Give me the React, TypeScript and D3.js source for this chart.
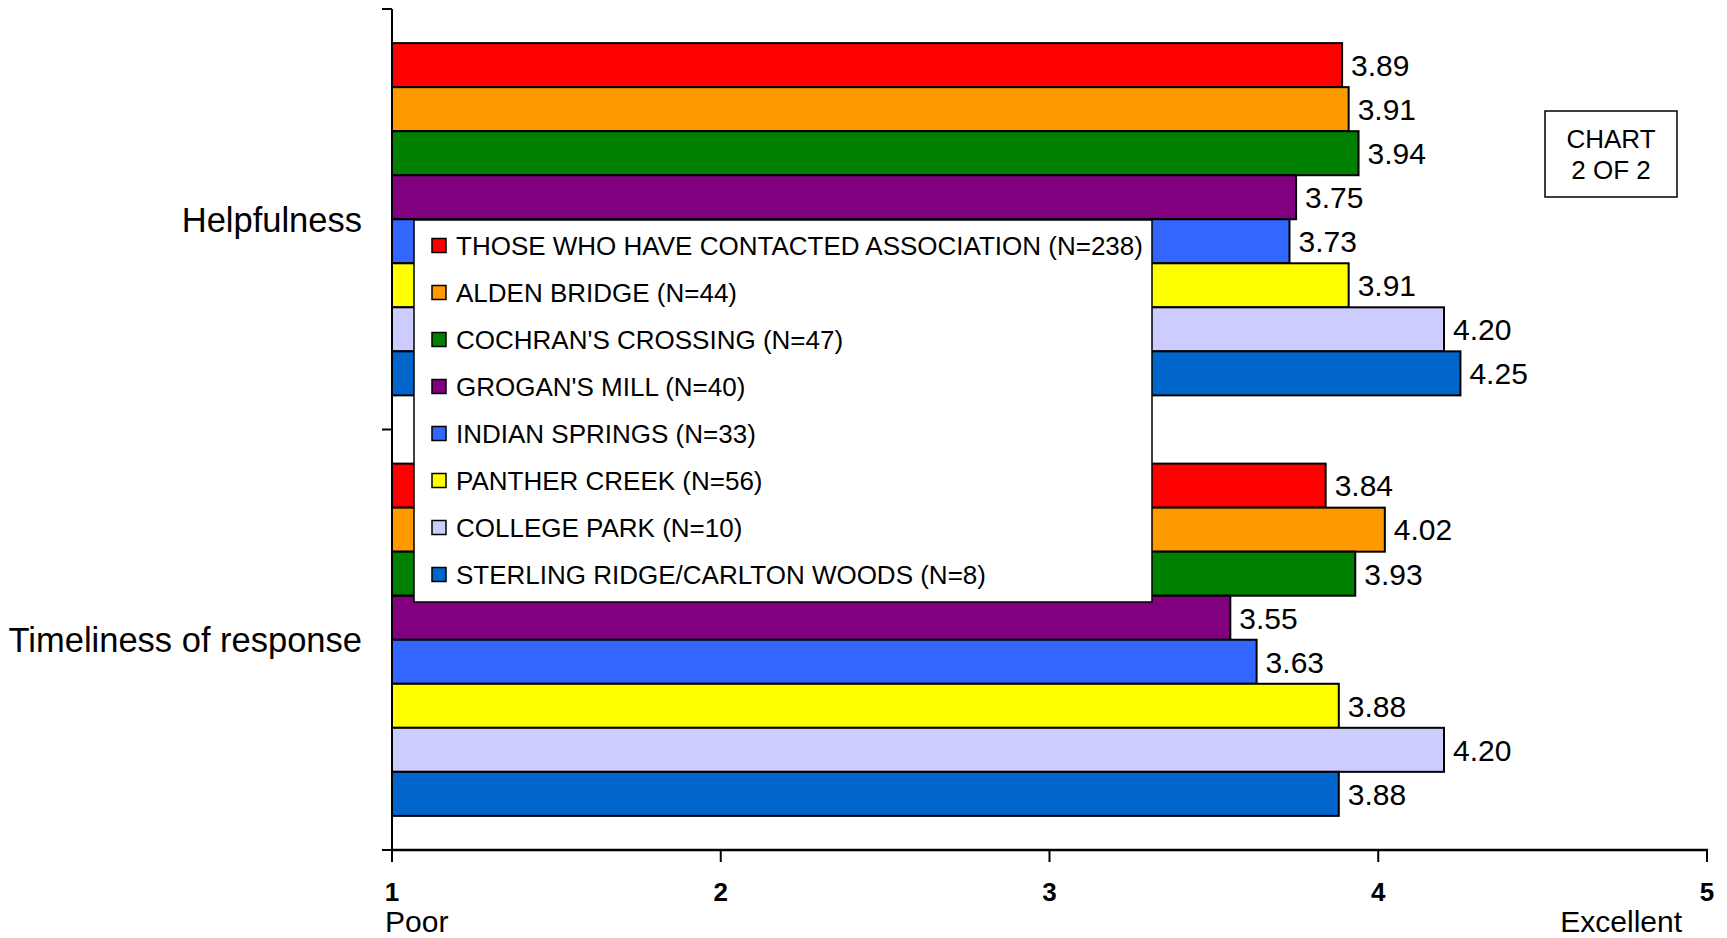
import React from "react";
import * as d3 from "d3";

const categories = ["Helpfulness", "Timeliness of response"];
const seriesNames = [
  "THOSE WHO HAVE CONTACTED ASSOCIATION (N=238)",
  "ALDEN BRIDGE (N=44)",
  "COCHRAN'S CROSSING (N=47)",
  "GROGAN'S MILL (N=40)",
  "INDIAN SPRINGS (N=33)",
  "PANTHER CREEK (N=56)",
  "COLLEGE PARK (N=10)",
  "STERLING RIDGE/CARLTON WOODS (N=8)",
];
const seriesColors = ["#FF0000", "#FF9900", "#008000", "#800080", "#3366FF", "#FFFF00", "#CCCCFF", "#0066CC"];
const helpfulnessValues = [3.89, 3.91, 3.94, 3.75, 3.73, 3.91, 4.2, 4.25];
const timelinessValues = [3.84, 4.02, 3.93, 3.55, 3.63, 3.88, 4.2, 3.88];
const xTicks = [1, 2, 3, 4, 5];
const xEndLabels = ["Poor", "Excellent"];
const badgeLines = ["CHART", "2 OF 2"];

const W = 1727;
const H = 938;
const left = 392;
const right = 1707;
const top = 9;
const bottom = 850;
const FONT = "'Liberation Sans', Arial, sans-serif";

export default function App() {
  const valuesByCategory = [helpfulnessValues, timelinessValues];
  const x = d3.scaleLinear().domain([1, 5]).range([left, right]);
  const yCat = d3.scaleBand<string>().domain(categories).range([top, bottom]).padding(0);
  const band = yCat.bandwidth();
  const barH = band / 9.55;
  const gap = band - barH * 8;
  const ySer = d3
    .scaleBand<string>()
    .domain(seriesNames)
    .range([gap / 2, band - gap / 2])
    .padding(0);

  const legX = 414;
  const legY = 220;
  const legW = 738;
  const legH = 382;
  const legRow = 47;

  return (
    <svg
      width={W}
      height={H}
      style={{ position: "absolute", left: 0, top: 0, background: "#fff" }}
      fontFamily={FONT}
    >
      <rect x={0} y={0} width={W} height={H} fill="#fff" />
      {categories.map((c, ci) => (
        <g key={c}>
          {seriesNames.map((s, si) => {
            const v = valuesByCategory[ci][si];
            const y0 = (yCat(c) as number) + (ySer(s) as number);
            return (
              <g key={s}>
                <rect
                  x={x(1)}
                  y={y0}
                  width={x(v) - x(1)}
                  height={ySer.bandwidth()}
                  fill={seriesColors[si]}
                  stroke="#000"
                  strokeWidth={2}
                />
                <text
                  x={x(v) + 9}
                  y={y0 + ySer.bandwidth() / 2}
                  dy="0.36em"
                  fontSize={30}
                  fill="#000"
                >
                  {v.toFixed(2)}
                </text>
              </g>
            );
          })}
          <text
            x={362}
            y={(yCat(c) as number) + band / 2}
            dy="0.36em"
            textAnchor="end"
            fontSize={34.5}
            fill="#000"
          >
            {c}
          </text>
        </g>
      ))}

      {/* axes */}
      <line x1={left} x2={left} y1={top} y2={bottom + 1} stroke="#000" strokeWidth={2} />
      {[top, top + band, bottom].map((yy, i) => (
        <line key={i} x1={left - 10} x2={left} y1={yy} y2={yy} stroke="#000" strokeWidth={2} />
      ))}
      <line x1={left - 1} x2={right + 1} y1={bottom} y2={bottom} stroke="#000" strokeWidth={2.5} />
      {xTicks.map((t) => (
        <g key={t}>
          <line x1={x(t)} x2={x(t)} y1={bottom} y2={bottom + 12} stroke="#000" strokeWidth={2} />
          <text x={x(t)} y={892} dy="0.36em" textAnchor="middle" fontSize={26} fontWeight="bold" fill="#000">
            {t}
          </text>
        </g>
      ))}
      <text x={385} y={921} dy="0.36em" fontSize={30} fill="#000">
        {xEndLabels[0]}
      </text>
      <text x={1682} y={921} dy="0.36em" textAnchor="end" fontSize={30} fill="#000">
        {xEndLabels[1]}
      </text>

      {/* legend */}
      <rect x={legX} y={legY} width={legW} height={legH} fill="#fff" stroke="#000" strokeWidth={1.5} />
      {seriesNames.map((s, i) => {
        const cy = legY + 25.5 + i * legRow;
        return (
          <g key={s}>
            <rect x={432} y={cy - 7} width={14} height={14} fill={seriesColors[i]} stroke="#000" strokeWidth={1.5} />
            <text x={456} y={cy} dy="0.36em" fontSize={26} fill="#000">
              {s}
            </text>
          </g>
        );
      })}

      {/* badge */}
      <rect x={1545} y={111} width={132} height={86} fill="#fff" stroke="#000" strokeWidth={1.5} />
      {badgeLines.map((l, i) => (
        <text key={l} x={1611} y={139 + i * 31} dy="0.36em" textAnchor="middle" fontSize={26} fill="#000">
          {l}
        </text>
      ))}
    </svg>
  );
}
